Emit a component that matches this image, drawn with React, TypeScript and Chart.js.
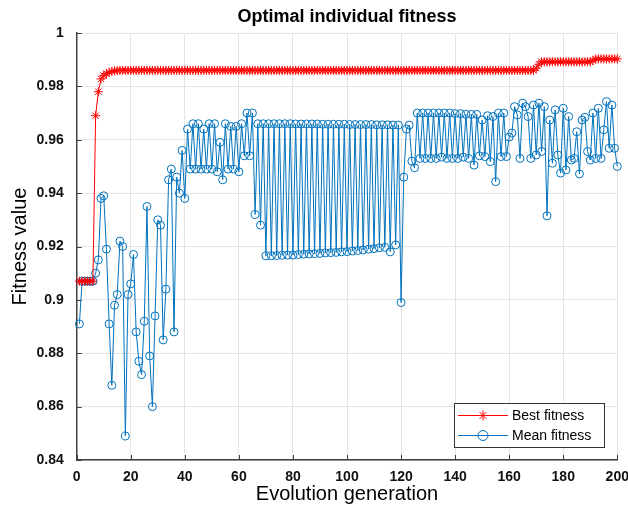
import React, { useEffect, useRef } from "react";
import { Chart, registerables } from "chart.js";

Chart.register(...registerables);

const FONT = "'Liberation Sans', Arial, Helvetica, sans-serif";

const generations: number[] = Array.from({ length: 200 }, (_, i) => i + 1);

const bestFitness: number[] = [
  0.907, 0.907, 0.907, 0.907, 0.907, 0.907, 0.969, 0.978, 0.9828, 0.984,
  0.9848, 0.9853, 0.9856, 0.9858, 0.9859, 0.986, 0.986, 0.986, 0.986, 0.986,
  0.986, 0.986, 0.986, 0.986, 0.986, 0.986, 0.986, 0.986, 0.986, 0.986,
  0.986, 0.986, 0.986, 0.986, 0.986, 0.986, 0.986, 0.986, 0.986, 0.986,
  0.986, 0.986, 0.986, 0.986, 0.986, 0.986, 0.986, 0.986, 0.986, 0.986,
  0.986, 0.986, 0.986, 0.986, 0.986, 0.986, 0.986, 0.986, 0.986, 0.986,
  0.986, 0.986, 0.986, 0.986, 0.986, 0.986, 0.986, 0.986, 0.986, 0.986,
  0.986, 0.986, 0.986, 0.986, 0.986, 0.986, 0.986, 0.986, 0.986, 0.986,
  0.986, 0.986, 0.986, 0.986, 0.986, 0.986, 0.986, 0.986, 0.986, 0.986,
  0.986, 0.986, 0.986, 0.986, 0.986, 0.986, 0.986, 0.986, 0.986, 0.986,
  0.986, 0.986, 0.986, 0.986, 0.986, 0.986, 0.986, 0.986, 0.986, 0.986,
  0.986, 0.986, 0.986, 0.986, 0.986, 0.986, 0.986, 0.986, 0.986, 0.986,
  0.986, 0.986, 0.986, 0.986, 0.986, 0.986, 0.986, 0.986, 0.986, 0.986,
  0.986, 0.986, 0.986, 0.986, 0.986, 0.986, 0.986, 0.986, 0.986, 0.986,
  0.986, 0.986, 0.986, 0.986, 0.986, 0.986, 0.986, 0.986, 0.986, 0.986,
  0.986, 0.986, 0.986, 0.986, 0.986, 0.986, 0.986, 0.986, 0.986, 0.986,
  0.986, 0.986, 0.986, 0.986, 0.986, 0.986, 0.986, 0.986, 0.986, 0.9868,
  0.9883, 0.9892, 0.9892, 0.9892, 0.9892, 0.9892, 0.9892, 0.9892, 0.9892, 0.9892,
  0.9892, 0.9892, 0.9892, 0.9892, 0.9892, 0.9892, 0.9892, 0.9892, 0.9892, 0.9892,
  0.9897, 0.9903, 0.9903, 0.9903, 0.9903, 0.9903, 0.9903, 0.9903, 0.9903, 0.9903,
];

const meanFitness: number[] = [
  0.891, 0.907, 0.907, 0.907, 0.907, 0.907, 0.910, 0.915, 0.938, 0.939,
  0.919, 0.891, 0.868, 0.898, 0.902, 0.922, 0.920, 0.849, 0.902, 0.906,
  0.917, 0.888, 0.877, 0.872, 0.892, 0.935, 0.879, 0.860, 0.894, 0.930,
  0.928, 0.885, 0.904, 0.945, 0.949, 0.888, 0.946, 0.940, 0.956, 0.938,
  0.964, 0.949, 0.966, 0.949, 0.966, 0.949, 0.964, 0.949, 0.966, 0.949,
  0.966, 0.948, 0.959, 0.945, 0.966, 0.949, 0.965, 0.949, 0.965, 0.948,
  0.966, 0.954, 0.970, 0.954, 0.970, 0.932, 0.966, 0.928, 0.966, 0.9165,
  0.966, 0.9165, 0.966, 0.9166, 0.966, 0.9167, 0.966, 0.9168, 0.966, 0.9168,
  0.9659, 0.917, 0.9659, 0.9171, 0.9659, 0.9172, 0.9659, 0.9173, 0.9659, 0.9174,
  0.9658, 0.9176, 0.9658, 0.9177, 0.9658, 0.9178, 0.9658, 0.918, 0.9658, 0.9181,
  0.9657, 0.9183, 0.9657, 0.9185, 0.9657, 0.9187, 0.9657, 0.919, 0.9657, 0.9192,
  0.9656, 0.9195, 0.9656, 0.9197, 0.9656, 0.918, 0.9655, 0.9206, 0.9655, 0.899,
  0.946, 0.964, 0.9655, 0.952, 0.9495, 0.970, 0.953, 0.970, 0.953, 0.970,
  0.953, 0.970, 0.953, 0.970, 0.9535, 0.970, 0.953, 0.970, 0.953, 0.9698,
  0.953, 0.9698, 0.9535, 0.9695, 0.953, 0.9695, 0.9505, 0.9695, 0.954, 0.9674,
  0.9537, 0.969, 0.9518, 0.9687, 0.9443, 0.970, 0.9537, 0.970, 0.9537, 0.961,
  0.9625, 0.9724, 0.9693, 0.953, 0.9737, 0.9724, 0.9687, 0.953, 0.973, 0.9543,
  0.9737, 0.9556, 0.9724, 0.9315, 0.9674, 0.9512, 0.9712, 0.9543, 0.9475, 0.9718,
  0.9487, 0.9687, 0.9524, 0.953, 0.963, 0.9472, 0.9674, 0.9684, 0.9556, 0.9524,
  0.970, 0.953, 0.9718, 0.953, 0.9637, 0.9743, 0.9568, 0.973, 0.9568, 0.950,
];

const seriesLabels = ["Best fitness", "Mean fitness"];
const seriesColors = ["#ff0000", "#0072bd"];
const seriesMarkers = ["star", "circle"];

const titleText = "Optimal individual fitness";
const xTitle = "Evolution generation";
const yTitle = "Fitness value";

const AXIS_COLOR = "#404040";

const inwardTicks = {
  id: "inwardTicks",
  afterDatasetsDraw(chart: any) {
    const { ctx, chartArea, scales } = chart;
    ctx.save();
    ctx.strokeStyle = AXIS_COLOR;
    ctx.lineWidth = 1;
    const xs = scales.x;
    xs.ticks.forEach((t: any) => {
      const px = Math.round(xs.getPixelForValue(t.value)) + 0.5;
      ctx.beginPath();
      ctx.moveTo(px, chartArea.bottom);
      ctx.lineTo(px, chartArea.bottom - 5);
      ctx.stroke();
    });
    const ys = scales.y;
    ys.ticks.forEach((t: any) => {
      const py = Math.round(ys.getPixelForValue(t.value)) + 0.5;
      ctx.beginPath();
      ctx.moveTo(chartArea.left, py);
      ctx.lineTo(chartArea.left + 5, py);
      ctx.stroke();
    });
    ctx.restore();
  },
};

function drawMarker(ctx: CanvasRenderingContext2D, style: string, x: number, y: number, r: number) {
  ctx.beginPath();
  if (style === "circle") {
    ctx.arc(x, y, r, 0, Math.PI * 2);
  } else {
    for (let k = 0; k < 4; k++) {
      const a = (k * Math.PI) / 4;
      ctx.moveTo(x - Math.cos(a) * r, y - Math.sin(a) * r);
      ctx.lineTo(x + Math.cos(a) * r, y + Math.sin(a) * r);
    }
  }
  ctx.stroke();
}

const boxLegend = {
  id: "boxLegend",
  afterDraw(chart: any) {
    const { ctx, chartArea } = chart;
    const w = 150;
    const h = 44;
    const x = Math.round(chartArea.right - 13 - w);
    const y = Math.round(chartArea.bottom - 13 - h);
    ctx.save();
    ctx.fillStyle = "#ffffff";
    ctx.fillRect(x, y, w, h);
    ctx.strokeStyle = "#333333";
    ctx.lineWidth = 1;
    ctx.strokeRect(x + 0.5, y + 0.5, w, h);
    chart.data.datasets.forEach((ds: any, i: number) => {
      const cy = y + 12.5 + i * 20;
      ctx.strokeStyle = ds.borderColor;
      ctx.lineWidth = 1;
      ctx.beginPath();
      ctx.moveTo(x + 4, cy);
      ctx.lineTo(x + 54, cy);
      ctx.stroke();
      drawMarker(ctx, ds.pointStyle, x + 29, cy, 5);
      ctx.fillStyle = "#000000";
      ctx.font = `14px ${FONT}`;
      ctx.textAlign = "left";
      ctx.textBaseline = "middle";
      ctx.fillText(ds.label, x + 58, cy + 1);
    });
    ctx.restore();
  },
};

export default function App() {
  const canvasRef = useRef<HTMLCanvasElement | null>(null);

  useEffect(() => {
    document.body.style.margin = "0";
    const canvas = canvasRef.current;
    if (!canvas) return;
    const chart = new Chart(canvas, {
      type: "line",
      data: {
        datasets: [
          {
            label: seriesLabels[0],
            data: generations.map((g, i) => ({ x: g, y: bestFitness[i] })),
            borderColor: seriesColors[0],
            backgroundColor: "rgba(0,0,0,0)",
            pointBorderColor: seriesColors[0],
            pointBackgroundColor: "rgba(0,0,0,0)",
            pointStyle: seriesMarkers[0],
            pointRadius: 4.5,
            pointBorderWidth: 1,
            borderWidth: 1,
            tension: 0,
            order: 0,
            clip: 8,
          } as any,
          {
            label: seriesLabels[1],
            data: generations.map((g, i) => ({ x: g, y: meanFitness[i] })),
            borderColor: seriesColors[1],
            backgroundColor: "rgba(0,0,0,0)",
            pointBorderColor: seriesColors[1],
            pointBackgroundColor: "rgba(0,0,0,0)",
            pointStyle: seriesMarkers[1],
            pointRadius: 4,
            pointBorderWidth: 1,
            borderWidth: 1,
            tension: 0,
            order: 1,
            clip: 8,
          } as any,
        ],
      },
      options: {
        responsive: false,
        animation: false,
        devicePixelRatio: 1,
        layout: { padding: { left: 0, right: 10.7, top: 0, bottom: 0 } },
        plugins: {
          legend: { display: false },
          tooltip: { enabled: false },
          title: {
            display: true,
            text: titleText,
            fullSize: false,
            color: "#000000",
            font: { family: FONT, size: 18, weight: "bold" },
            padding: { top: 6, bottom: 5.4 },
          } as any,
        },
        scales: {
          x: {
            type: "linear",
            min: 0,
            max: 200,
            afterFit(scale: any) {
              scale.height = 55;
              scale.paddingLeft = 0;
              scale.paddingRight = 0;
            },
            ticks: {
              stepSize: 20,
              color: "#111111",
              font: { family: FONT, size: 14, weight: "bold" },
              padding: 9,
              maxRotation: 0,
            },
            grid: { color: "#e3e3e3", lineWidth: 1, drawTicks: false },
            border: { display: true, color: AXIS_COLOR, width: 1.5 },
            title: {
              display: true,
              text: xTitle,
              color: "#000000",
              font: { family: FONT, size: 20 },
              padding: { top: 0, bottom: 9 },
            },
          },
          y: {
            type: "linear",
            min: 0.84,
            max: 1,
            afterFit(scale: any) {
              scale.width = 76.7;
              scale.paddingTop = 0;
              scale.paddingBottom = 0;
            },
            ticks: {
              stepSize: 0.02,
              color: "#111111",
              font: { family: FONT, size: 14, weight: "bold" },
              padding: 13,
              callback: (v: any) => String(Number(Number(v).toFixed(2))),
            },
            grid: { color: "#e3e3e3", lineWidth: 1, drawTicks: false },
            border: { display: true, color: AXIS_COLOR, width: 1.5 },
            title: {
              display: true,
              text: yTitle,
              color: "#000000",
              font: { family: FONT, size: 20 },
              padding: { top: 8, bottom: 0 },
            },
          },
        },
      } as any,
      plugins: [inwardTicks, boxLegend],
    });
    return () => chart.destroy();
  }, []);

  return (
    <div style={{ width: 628, height: 515, background: "#ffffff" }}>
      <canvas ref={canvasRef} width={628} height={515} />
    </div>
  );
}
